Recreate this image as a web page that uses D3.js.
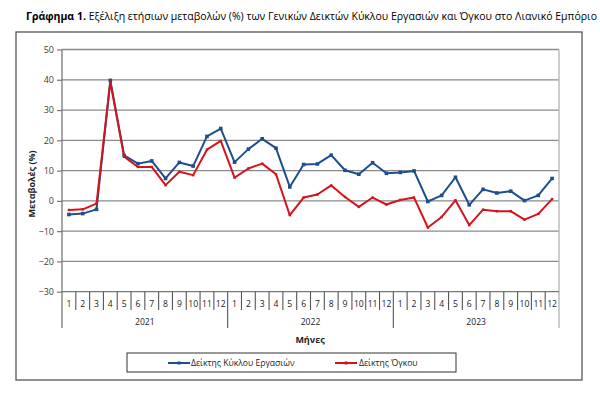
<!DOCTYPE html>
<html><head><meta charset="utf-8">
<script src="https://cdn.jsdelivr.net/npm/d3@7"></script>
<style>body{margin:0;background:#fff}svg{display:block}text{font-family:"Open Sans","Noto Sans",sans-serif}</style>
</head><body><svg id="c" width="600" height="393"></svg>
<script>
const years = ["2021","2022","2023"];
const months = ["1","2","3","4","5","6","7","8","9","10","11","12"];
const yTicks = [-30,-20,-10,0,10,20,30,40,50];
const turnover = [-4.5,-4.2,-2.8,39.8,15.0,12.3,13.2,7.4,12.7,11.5,21.3,23.9,
  12.8,17.1,20.5,17.4,4.6,12.0,12.2,15.1,10.1,8.8,12.6,9.1,
  9.4,9.9,-0.2,1.8,7.8,-1.3,3.8,2.6,3.2,0.1,1.8,7.4];
const volume = [-3.0,-2.8,-0.9,39.3,14.6,11.2,11.2,5.2,9.6,8.5,16.9,19.8,
  7.7,10.7,12.3,8.8,-4.7,1.1,2.1,5.1,1.3,-2.0,1.1,-1.2,
  0.3,1.1,-8.8,-5.3,0.2,-8.0,-2.9,-3.4,-3.4,-6.2,-4.3,0.6];
const seriesNames = ["Δείκτης Κύκλου Εργασιών","Δείκτης Όγκου"];
const colors = ["#1f4e8c","#d4141c"];

const svg = d3.select("#c");
const L=62, R=559, T=49.5, B=291.7;
const keys = [];
years.forEach(y=>months.forEach(m=>keys.push(y+"-"+m)));
const x = d3.scaleBand().domain(keys).range([L,R]).padding(0);
const y = d3.scaleLinear().domain([-30,50]).range([B,T]);

// outer frame
svg.append("rect").attr("x",16).attr("y",32).attr("width",566).attr("height",348)
  .attr("fill","none").attr("stroke","#555").attr("stroke-width",1.3);

// title
const title = svg.append("text").attr("x",26).attr("y",20).attr("font-size",10.6).attr("fill","#000")
  .attr("textLength",571).attr("lengthAdjust","spacingAndGlyphs");
title.append("tspan").attr("font-weight","bold").text("Γράφημα 1.");
title.append("tspan").text(" Εξέλιξη ετήσιων μεταβολών (%) των Γενικών Δεικτών Κύκλου Εργασιών και Όγκου στο Λιανικό Εμπόριο");

// gridlines
svg.append("g").selectAll("line").data(yTicks.filter(d=>d>-30)).join("line")
  .attr("x1",L).attr("x2",R).attr("y1",d=>y(d)).attr("y2",d=>y(d))
  .attr("stroke","#8a8a8a").attr("stroke-width",1.3);
// right border
svg.append("line").attr("x1",R).attr("x2",R).attr("y1",T).attr("y2",328).attr("stroke","#bdbdbd").attr("stroke-width",1.5);

// y axis
const ya = svg.append("g").attr("transform",`translate(${L},0)`)
  .call(d3.axisLeft(y).tickValues(yTicks).tickSize(5).tickPadding(3));
ya.select(".domain").remove();
ya.selectAll(".tick line").attr("stroke","#777").attr("stroke-width",1.2);
ya.selectAll(".tick text").attr("font-size",9).attr("fill","#404040");
svg.append("line").attr("x1",L).attr("x2",L).attr("y1",T).attr("y2",328).attr("stroke","#777").attr("stroke-width",1.3);
// x axis base
svg.append("line").attr("x1",L).attr("x2",R).attr("y1",B).attr("y2",B).attr("stroke","#777").attr("stroke-width",1.3);

// month separators and labels
const xa = svg.append("g");
xa.selectAll("line.sep").data(keys.slice(1)).join("line").attr("class","sep")
  .attr("x1",d=>x(d)).attr("x2",d=>x(d)).attr("y1",B)
  .attr("y2",d=>d.endsWith("-1")?328:310)
  .attr("stroke","#555").attr("stroke-width",1.1);
xa.selectAll("text.m").data(keys).join("text").attr("class","m")
  .attr("x",d=>x(d)+x.bandwidth()/2).attr("y",307).attr("text-anchor","middle")
  .attr("font-size",8.6).attr("fill","#222").text(d=>d.split("-")[1]);
xa.selectAll("text.yr").data(years).join("text").attr("class","yr")
  .attr("x",yr=>(x(yr+"-1")+x(yr+"-12")+x.bandwidth())/2).attr("y",325).attr("text-anchor","middle")
  .attr("font-size",8.6).attr("fill","#222").text(d=>d);

// axis titles
svg.append("text").attr("x",310).attr("y",343).attr("text-anchor","middle")
  .attr("font-size",9).attr("font-weight","bold").attr("fill","#222").text("Μήνες");
svg.append("text").attr("transform","translate(35,184) rotate(-90)").attr("text-anchor","middle")
  .attr("font-size",9).attr("font-weight","bold").attr("fill","#222").text("Μεταβολές (%)");

// lines
const line = d3.line().x((d,i)=>x(keys[i])+x.bandwidth()/2).y(d=>y(d));
[turnover, volume].forEach((s,k)=>{
  svg.append("path").datum(s).attr("d",line).attr("fill","none")
    .attr("stroke",colors[k]).attr("stroke-width",2).attr("stroke-linejoin","round");
  svg.append("g").selectAll("rect").data(s).join("rect")
    .attr("x",(d,i)=>x(keys[i])+x.bandwidth()/2-(k==0?1.8:1.2))
    .attr("y",d=>y(d)-(k==0?1.8:1.2))
    .attr("width",k==0?3.6:2.4).attr("height",k==0?3.6:2.4).attr("fill",colors[k]);
});

// legend
svg.append("rect").attr("x",127).attr("y",353).attr("width",329).attr("height",19)
  .attr("fill","#fff").attr("stroke","#333").attr("stroke-width",1);
const lg = [{x:168,tx:191},{x:335,tx:359}];
lg.forEach((p,k)=>{
  svg.append("line").attr("x1",p.x).attr("x2",p.x+22).attr("y1",363).attr("y2",363)
    .attr("stroke",colors[k]).attr("stroke-width",2);
  svg.append("rect").attr("x",p.x+9.5).attr("y",361.5).attr("width",3).attr("height",3).attr("fill",colors[k]);
  svg.append("text").attr("x",p.tx).attr("y",366).attr("font-size",8.6).attr("fill","#222").text(seriesNames[k]);
});
</script></body></html>
